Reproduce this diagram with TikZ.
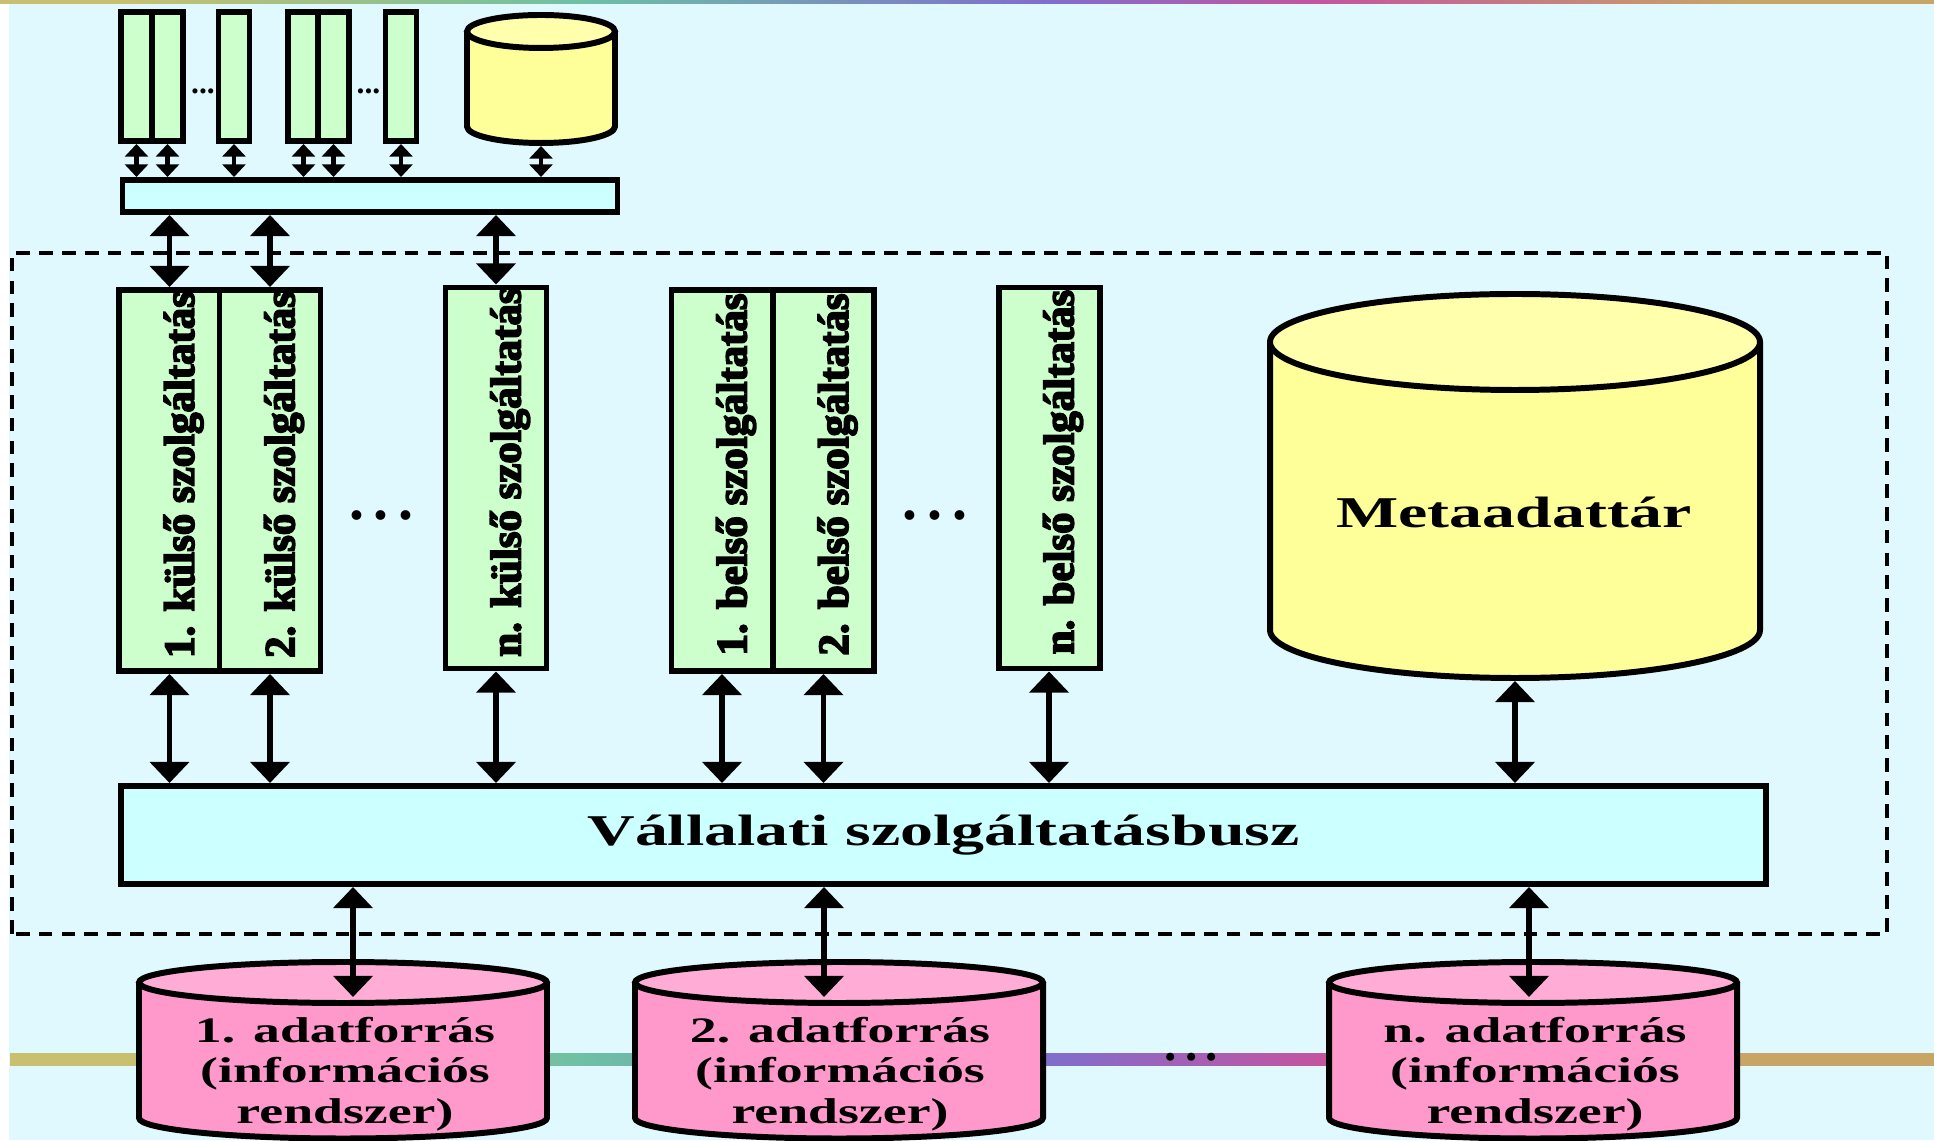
\documentclass[tikz,border=0pt]{standalone}
\usepackage{fontspec}
\setmainfont{Liberation Serif}
\newfontfamily\heavyserif[FakeBold=4]{Liberation Serif Bold}
\usepackage{graphicx}
\usetikzlibrary{arrows.meta}

\definecolor{bgcyan}{RGB}{224,249,255}
\definecolor{svcgreen}{RGB}{204,255,204}
\definecolor{buscyan}{RGB}{204,255,255}
\definecolor{metabody}{RGB}{255,255,153}
\definecolor{metatop}{RGB}{255,255,172}
\definecolor{srcbody}{RGB}{255,153,204}
\definecolor{srctop}{RGB}{255,172,214}
\definecolor{bandolive}{RGB}{200,192,110}
\definecolor{bandteal}{RGB}{110,192,165}
\definecolor{bandpurple}{RGB}{128,110,205}
\definecolor{bandmagenta}{RGB}{196,84,160}
\definecolor{bandtan}{RGB}{200,165,100}

\pgfdeclarehorizontalshading{band}{100bp}{color(0bp)=(bandolive); color(28bp)=(bandolive);
  color(40bp)=(bandteal); color(52bp)=(bandpurple); color(59bp)=(bandmagenta);
  color(70bp)=(bandtan); color(100bp)=(bandtan)}

% wide bold lettering
\newcommand\wide[1]{\scalebox{1.5}[1]{#1}}
% drum: x, top y, bottom y, x radius, y radius, body colour, lid colour
\newcommand\drum[7]{%
  \filldraw[fill=#6, line width=1.7pt, line join=round] (#1-#4,#2) -- (#1-#4,#3)
    arc[start angle=180, end angle=360, x radius=#4, y radius=#5] -- (#1+#4,#2);
  \filldraw[fill=#7, line width=1.7pt] (#1,#2) ellipse[x radius=#4, y radius=#5];
}

\begin{document}
\begin{tikzpicture}[
  box/.style={draw, line width=1.7pt, fill=svcgreen, inner sep=0pt},
  svc/.style={box, minimum width=1.01cm, minimum height=3.81cm},
  tbox/.style={box, minimum width=0.31cm, minimum height=1.29cm},
  bus/.style={draw, line width=1.7pt, fill=buscyan, inner sep=0pt},
  link/.style={arrows={Triangle[length=6pt,width=11pt]-Triangle[length=6pt,width=11pt]}, line width=1.7pt},
  slink/.style={arrows={Triangle[length=3.6pt,width=6.5pt]-Triangle[length=3.6pt,width=6.5pt]}, line width=1.4pt},
  vtext/.style={rotate=90, inner sep=0pt, font=\fontsize{12.2}{14}\heavyserif},
  wtext/.style={font=\fontsize{12.5}{15}\selectfont\bfseries},
  dtext/.style={align=center, inner sep=0pt, font=\fontsize{10.2}{11.5}\selectfont\bfseries},
  dots/.style={inner sep=0pt, font=\fontsize{17}{17}\selectfont\bfseries},
]
\useasboundingbox (0,0) rectangle (19.34,11.40);
% background with the two coloured strips
\fill[white] (0,0) rectangle (19.34,11.40);
\fill[bgcyan] (0.09,0) rectangle (19.34,11.36);
\shade[shading=band] (0,11.36) rectangle (19.34,11.40);
\shade[shading=band] (0.10,0.75) rectangle (19.34,0.87);

% dashed frame round the bus level
\draw[line width=0.95pt, dash pattern=on 3.9pt off 2.6pt] (0.12,2.06) rectangle (18.87,8.87);

% small services on top
\node[tbox] (t1) at (1.365,10.635) {};
\node[tbox] (t2) at (1.675,10.635) {};
\node[tbox] (t3) at (2.34,10.635) {};
\node[tbox] (t4) at (3.035,10.635) {};
\node[tbox] (t5) at (3.335,10.635) {};
\node[tbox] (t6) at (4.01,10.635) {};
\node[inner sep=0pt, font=\fontsize{9}{9}\selectfont\bfseries] (tdots1) at (2.03,10.49) {...};
\node[inner sep=0pt, font=\fontsize{9}{9}\selectfont\bfseries] (tdots2) at (3.685,10.49) {...};
\drum{5.41}{11.085}{10.135}{0.74}{0.165}{metabody}{metatop}
\coordinate (sdb) at (5.41,9.94);
\node[bus, minimum width=4.95cm, minimum height=0.32cm] (sbus) at (3.70,9.44) {};

% services
\node[svc] (k1) at (1.695,6.595) {};
\node[svc] (k2) at (2.70,6.595) {};
\node[svc] (kn) at (4.96,6.62) {};
\node[svc] (b1) at (7.22,6.595) {};
\node[svc] (b2) at (8.235,6.595) {};
\node[svc] (bn) at (10.49,6.62) {};
\node[vtext] (k1t) at ([xshift=0.14cm, yshift=0.06cm]k1.center) {1. külső szolgáltatás};
\node[vtext] (k2t) at ([xshift=0.14cm, yshift=0.06cm]k2.center) {2. külső szolgáltatás};
\node[vtext] (knt) at ([xshift=0.14cm, yshift=0.06cm]kn.center) {n. külső szolgáltatás};
\node[vtext] (b1t) at ([xshift=0.14cm, yshift=0.06cm]b1.center) {1. belső szolgáltatás};
\node[vtext] (b2t) at ([xshift=0.14cm, yshift=0.06cm]b2.center) {2. belső szolgáltatás};
\node[vtext] (bnt) at ([xshift=0.14cm, yshift=0.06cm]bn.center) {n. belső szolgáltatás};
\node[dots] (kdots) at (3.815,6.24) {.\,.\,.};
\node[dots] (bdots) at (9.35,6.24) {.\,.\,.};

% repository
\drum{15.15}{7.98}{5.10}{2.45}{0.48}{metabody}{metatop}
\node[wtext] (meta) at (15.14,6.28) {\wide{Metaadattár}};
\coordinate (metab) at (15.15,4.59);

% enterprise service bus
\node[bus, wtext, minimum width=16.45cm, minimum height=0.98cm] (bus) at (9.435,3.05)
  {\wide{Vállalati szolgáltatásbusz}};

% data sources
\drum{3.43}{1.575}{0.22}{2.04}{0.205}{srcbody}{srctop}
\drum{8.39}{1.575}{0.22}{2.04}{0.205}{srcbody}{srctop}
\drum{15.33}{1.575}{0.22}{2.04}{0.205}{srcbody}{srctop}
\node[dtext] (d1) at (3.45,0.66) {\wide{1. adatforrás}\\\wide{(információs}\\\wide{rendszer)}};
\node[dtext] (d2) at (8.40,0.66) {\wide{2. adatforrás}\\\wide{(információs}\\\wide{rendszer)}};
\node[dtext] (dn) at (15.35,0.66) {\wide{n. adatforrás}\\\wide{(információs}\\\wide{rendszer)}};
\node[inner sep=0pt, font=\fontsize{14}{14}\selectfont\bfseries] (ddots) at (11.915,0.83) {.\,.\,.};
\coordinate (src1) at (3.53,1.43);
\coordinate (src2) at (8.24,1.43);
\coordinate (srcn) at (15.29,1.43);

% connectors
\draw[slink] (t1.south) -- (t1.south |- sbus.north);
\draw[slink] (t2.south) -- (t2.south |- sbus.north);
\draw[slink] (t3.south) -- (t3.south |- sbus.north);
\draw[slink] (t4.south) -- (t4.south |- sbus.north);
\draw[slink] (t5.south) -- (t5.south |- sbus.north);
\draw[slink] (t6.south) -- (t6.south |- sbus.north);
\draw[slink] (sdb) -- (sdb |- sbus.north);
\draw[link] (sbus.south -| k1.north) -- (k1.north);
\draw[link] (sbus.south -| k2.north) -- (k2.north);
\draw[link] (sbus.south -| kn.north) -- (kn.north);
\draw[link] (k1.south) -- (k1.south |- bus.north);
\draw[link] (k2.south) -- (k2.south |- bus.north);
\draw[link] (kn.south) -- (kn.south |- bus.north);
\draw[link] (b1.south) -- (b1.south |- bus.north);
\draw[link] (b2.south) -- (b2.south |- bus.north);
\draw[link] (bn.south) -- (bn.south |- bus.north);
\draw[link] (metab) -- (metab |- bus.north);
\draw[link] (bus.south -| src1) -- (src1);
\draw[link] (bus.south -| src2) -- (src2);
\draw[link] (bus.south -| srcn) -- (srcn);
\end{tikzpicture}
\end{document}
